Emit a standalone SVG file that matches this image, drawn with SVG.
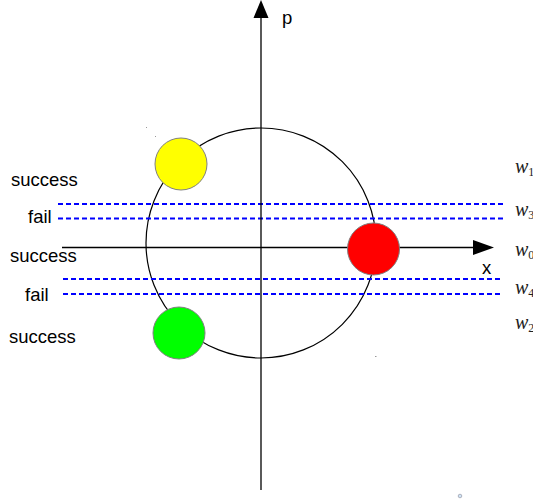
<svg xmlns="http://www.w3.org/2000/svg" width="533" height="501" viewBox="0 0 533 501">
  <style>
    .axis { stroke: #000; stroke-width: 1.3; fill: none; }
    .orbit { stroke: #000; stroke-width: 1.2; fill: none; }
    .level { stroke: #0000ff; stroke-width: 2; stroke-dasharray: 5 3; fill: none; }
    .ball { stroke: #808080; stroke-width: 1; }
    .lbl { font-family: "Liberation Sans", Arial, sans-serif; font-size: 18.5px; fill: #000; }
    .w { font-family: "Liberation Serif", "Times New Roman", serif; font-style: italic; font-size: 20px; fill: #222; }
    .sub { font-family: "Liberation Serif", "Times New Roman", serif; font-style: normal; font-size: 12px; fill: #222; }
  </style>

  <rect width="533" height="501" fill="#fff"/>

  <!-- phase-space circle -->
  <g id="orbit">
    <circle class="orbit" cx="261" cy="243" r="115"/>
  </g>

  <g id="connectors">
    <!-- energy levels -->
    <line class="level" x1="58" y1="204" x2="503" y2="204"/>
    <line class="level" x1="58" y1="218.5" x2="503" y2="218.5"/>
    <line class="level" x1="63" y1="279" x2="503" y2="279"/>
    <line class="level" x1="63" y1="294" x2="503" y2="294"/>
    <!-- axes -->
    <line class="axis" x1="62" y1="247.5" x2="476" y2="247.5"/>
    <polygon points="473,240 494,247.5 473,255" fill="#000"/>
    <line class="axis" x1="261" y1="490" x2="261" y2="16"/>
    <polygon points="253.5,18 261,0 268.5,18" fill="#000"/>
  </g>

  <g id="ball-yellow"><circle class="ball" cx="181" cy="164" r="26" fill="#ffff00"/></g>
  <g id="ball-red"><circle class="ball" cx="373.5" cy="249" r="26" fill="#ff0000"/></g>
  <g id="ball-green"><circle class="ball" cx="179" cy="333" r="26" fill="#00ff00"/></g>

  <g id="axis-labels">
    <text class="lbl" x="282" y="24">p</text>
    <text class="lbl" x="482" y="274">x</text>
  </g>

  <g id="outcomes">
    <text class="lbl" x="11" y="186">success</text>
    <text class="lbl" x="28" y="223">fail</text>
    <text class="lbl" x="10" y="262">success</text>
    <text class="lbl" x="25" y="301">fail</text>
    <text class="lbl" x="9" y="343">success</text>
  </g>

  <g id="weights">
    <text class="w" x="515" y="173">w<tspan class="sub" dy="3">1</tspan></text>
    <text class="w" x="515" y="216">w<tspan class="sub" dy="3">3</tspan></text>
    <text class="w" x="515" y="256">w<tspan class="sub" dy="3">0</tspan></text>
    <text class="w" x="515" y="294">w<tspan class="sub" dy="3">4</tspan></text>
    <text class="w" x="515" y="329">w<tspan class="sub" dy="3">2</tspan></text>
  </g>

  <!-- stray marks -->
  <g id="marks" fill="#999">
    <rect x="146" y="127" width="1" height="1"/>
    <rect x="155" y="136" width="1" height="1"/>
    <rect x="375" y="356" width="1.5" height="1"/>
    <circle cx="460" cy="496" r="1.8" fill="#cfe4f5" stroke="#889" stroke-width="0.6"/>
  </g>
</svg>
